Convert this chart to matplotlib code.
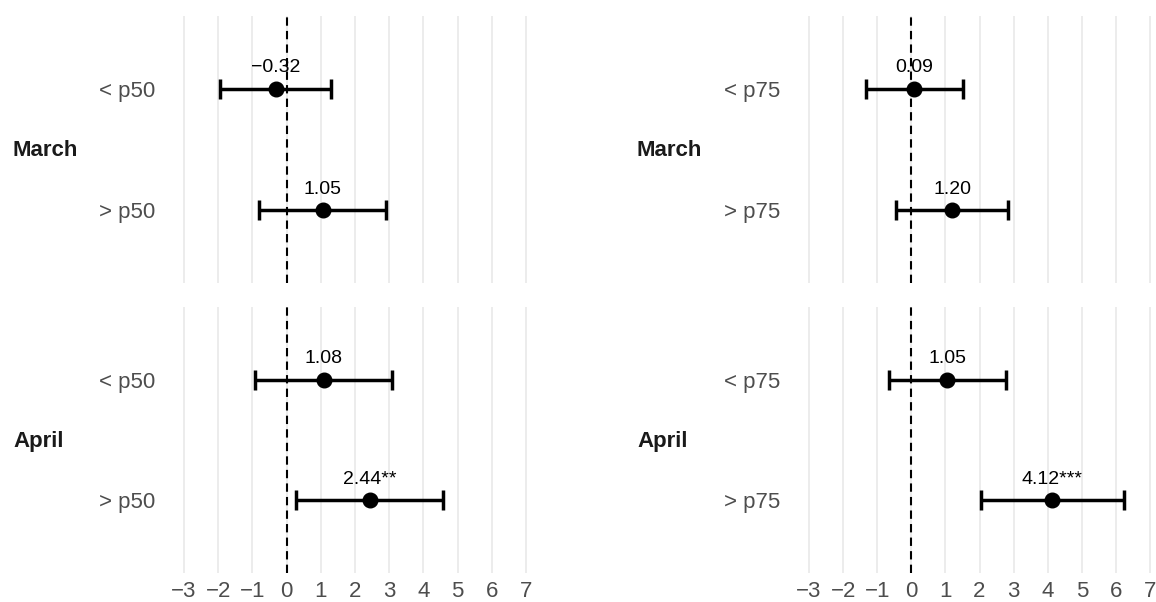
#!/usr/bin/env python3
"""Coefficient plot: March / April effects below and above the p50 and p75 cut-offs."""
import matplotlib
matplotlib.use("Agg")
import matplotlib.pyplot as plt

plt.rcParams["font.family"] = ["Liberation Sans", "DejaVu Sans"]

MONTHS = ["March", "April"]

# left panel: split at the median
LEFT_ROWS = ["< p50", "> p50"]
LEFT_EST = {"March": [-0.32, 1.05], "April": [1.08, 2.44]}
LEFT_LO = {"March": [-1.95, -0.81], "April": [-0.92, 0.28]}
LEFT_HI = {"March": [1.30, 2.92], "April": [3.07, 4.58]}
LEFT_LAB = {"March": ["\u22120.32", "1.05"], "April": ["1.08", "2.44**"]}

# right panel: split at p75
RIGHT_ROWS = ["< p75", "> p75"]
RIGHT_EST = {"March": [0.09, 1.20], "April": [1.05, 4.12]}
RIGHT_LO = {"March": [-1.34, -0.44], "April": [-0.65, 2.03]}
RIGHT_HI = {"March": [1.53, 2.85], "April": [2.78, 6.23]}
RIGHT_LAB = {"March": ["0.09", "1.20"], "April": ["1.05", "4.12***"]}

XTICKS = list(range(-3, 8))
W, H = 1156, 602


def px_axes(fig, x_m3, x_p7, top, bottom, xlo=-3.5, xhi=7.5):
    unit = (x_p7 - x_m3) / 10.0
    left = x_m3 + (xlo + 3) * unit
    right = x_m3 + (xhi + 3) * unit
    ax = fig.add_axes([left / W, 1 - bottom / H, (right - left) / W, (bottom - top) / H])
    ax.set_xlim(xlo, xhi)
    return ax


def draw_facet(ax, rows, est, lo, hi, labs, show_x):
    ys = list(range(len(rows)))
    for x in XTICKS:
        ax.axvline(x, color="#EBEBEB", lw=1.3, zorder=0)
    ax.axvline(0, color="black", lw=1.5, ls=(0, (4, 2.5)), zorder=1)
    xerr = [[e - l for e, l in zip(est, lo)], [h - e for e, h in zip(est, hi)]]
    ax.errorbar(est, ys, xerr=xerr, fmt="o", color="black", ms=10.5,
                elinewidth=2.5, capsize=7.5, capthick=2.5, zorder=3)
    for x, y, t in zip(est, ys, labs):
        ax.annotate(t, (x, y), xytext=(0, 15), textcoords="offset points",
                    ha="center", va="center", fontsize=14, color="black")
    ax.set_ylim(len(rows) - 0.4, -0.6)
    ax.set_yticks(ys, rows)
    ax.set_xticks(XTICKS if show_x else [])
    if show_x:
        ax.set_xticklabels([str(v).replace("-", "\u2212") for v in XTICKS])
    ax.tick_params(axis="both", length=0, labelsize=16, labelcolor="#4D4D4D")
    ax.tick_params(axis="y", pad=8.6)
    ax.tick_params(axis="x", pad=6)
    for s in ax.spines.values():
        s.set_visible(False)


def main():
    fig = plt.figure(figsize=(W / 100, H / 100), dpi=100)
    facets = {"March": (16, 283), "April": (307, 573)}
    panels = [
        (184, 526, 13, LEFT_ROWS, LEFT_EST, LEFT_LO, LEFT_HI, LEFT_LAB),
        (809, 1150, 637, RIGHT_ROWS, RIGHT_EST, RIGHT_LO, RIGHT_HI, RIGHT_LAB),
    ]
    for x_m3, x_p7, strip_x, rows, est, lo, hi, labs in panels:
        for m in MONTHS:
            top, bottom = facets[m]
            ax = px_axes(fig, x_m3, x_p7, top, bottom)
            draw_facet(ax, rows, est[m], lo[m], hi[m], labs[m], show_x=(m == "April"))
            fig.text(strip_x / W, 1 - ((top + bottom) / 2 + 1) / H, m, ha="left", va="center",
                     fontsize=16, fontweight="bold", color="#1A1A1A")
    fig.savefig("out.png", dpi=100)


if __name__ == "__main__":
    main()
